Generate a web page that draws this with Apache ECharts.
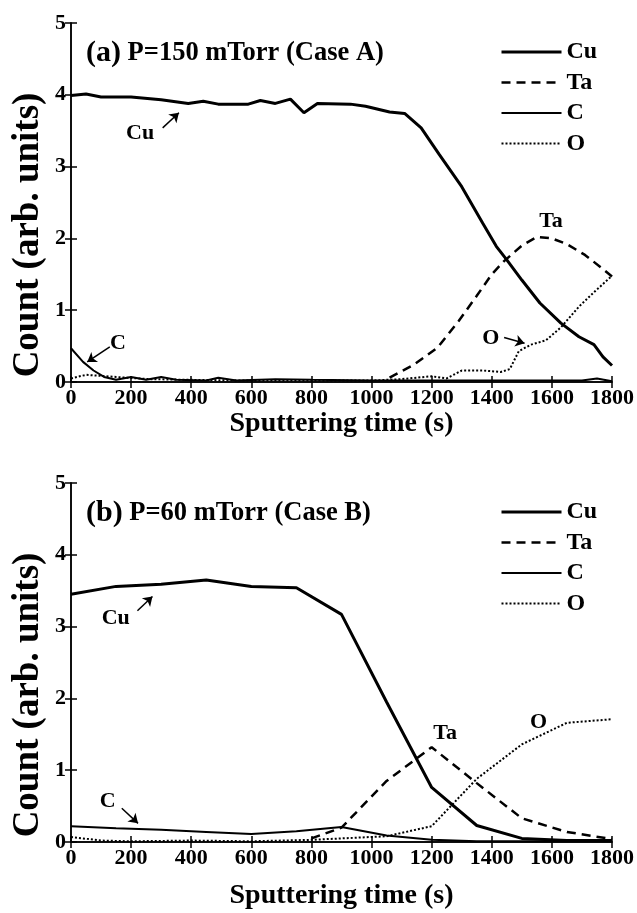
<!DOCTYPE html>
<html>
<head>
<meta charset="utf-8">
<script src="https://cdn.jsdelivr.net/npm/echarts@6/dist/echarts.min.js"></script>
<style>
  html, body { margin: 0; padding: 0; background: #fff; }
  #chart { width: 637px; height: 913px; }
</style>
</head>
<body>
<div id="chart"></div>
<script>
// panel (a) P=150 mTorr
const cuTimeA = [0, 50, 100, 200, 300, 390, 440, 490, 590, 630, 680, 730, 775, 820, 930, 980, 1060, 1110, 1165, 1225, 1300, 1370, 1415, 1450, 1500, 1560, 1630, 1690, 1740, 1770, 1800];
const cuA = [3.99, 4.01, 3.97, 3.97, 3.93, 3.88, 3.91, 3.87, 3.87, 3.92, 3.88, 3.94, 3.75, 3.88, 3.87, 3.84, 3.76, 3.74, 3.54, 3.17, 2.72, 2.21, 1.89, 1.70, 1.42, 1.10, 0.82, 0.63, 0.52, 0.35, 0.23];
const taTimeA = [1060, 1140, 1220, 1290, 1350, 1400, 1440, 1500, 1550, 1600, 1650, 1710, 1765, 1800];
const taA = [0.06, 0.24, 0.48, 0.85, 1.2, 1.5, 1.68, 1.9, 2.02, 2.0, 1.92, 1.77, 1.59, 1.47];
const cTimeA = [0, 40, 75, 110, 150, 200, 250, 300, 350, 450, 490, 550, 680, 800, 1000, 1200, 1400, 1600, 1700, 1750, 1800];
const cA = [0.47, 0.28, 0.16, 0.07, 0.03, 0.07, 0.03, 0.07, 0.03, 0.02, 0.06, 0.02, 0.04, 0.03, 0.02, 0.02, 0.02, 0.02, 0.02, 0.05, 0.01];
const oTimeA = [0, 50, 150, 260, 400, 600, 800, 1000, 1100, 1200, 1250, 1300, 1370, 1430, 1460, 1490, 1530, 1580, 1630, 1690, 1740, 1800];
const oA = [0.05, 0.10, 0.07, 0.04, 0.03, 0.02, 0.02, 0.02, 0.04, 0.08, 0.05, 0.16, 0.16, 0.14, 0.18, 0.43, 0.52, 0.58, 0.76, 1.05, 1.25, 1.48];

// panel (b) P=60 mTorr
const cuTimeB = [0, 150, 300, 450, 600, 750, 900, 1050, 1200, 1350, 1500, 1650, 1800];
const cuB = [3.45, 3.56, 3.59, 3.65, 3.56, 3.54, 3.17, 1.95, 0.76, 0.23, 0.05, 0.02, 0.02];
const taTimeB = [800, 900, 1050, 1200, 1350, 1500, 1650, 1800];
const taB = [0.05, 0.2, 0.85, 1.32, 0.82, 0.33, 0.14, 0.04];
const cTimeB = [0, 150, 300, 450, 600, 750, 900, 1050, 1200, 1350, 1500, 1650, 1800];
const cB = [0.22, 0.19, 0.17, 0.14, 0.11, 0.15, 0.21, 0.09, 0.03, 0.01, 0.01, 0.01, 0.01];
const oTimeB = [0, 100, 200, 400, 600, 800, 900, 1050, 1200, 1350, 1500, 1650, 1800];
const oB = [0.07, 0.02, 0.01, 0.02, 0.01, 0.03, 0.05, 0.08, 0.22, 0.88, 1.36, 1.66, 1.71];

const xTicks = [0, 200, 400, 600, 800, 1000, 1200, 1400, 1600, 1800];
const legendNames = ['Cu', 'Ta', 'C', 'O'];

// labels and arrows drawn on the plots, in data units
const notesA = [[230, 3.47, 'Cu'], [156, 0.54, 'C'], [1597, 2.24, 'Ta'], [1397, 0.61, 'O']];
const arrowsA = [[305, 3.54, 359, 3.75], [129, 0.49, 54, 0.28], [1441, 0.62, 1509, 0.54]];
const notesB = [[149, 3.12, 'Cu'], [122, 0.56, 'C'], [1245, 1.52, 'Ta'], [1556, 1.66, 'O']];
const arrowsB = [[221, 3.22, 271, 3.42], [169, 0.47, 223, 0.26]];

const serif = '"Liberation Serif", "DejaVu Serif", serif';
const pairs = (ts, vs) => ts.map((t, i) => [t, vs[i]]);

const styles = {
  Cu: { width: 3, type: 'solid' },
  Ta: { width: 2.5, type: [9, 6] },
  C: { width: 2, type: 'solid' },
  O: { width: 2, type: [2, 2] }
};

function line(name, ts, vs, ax) {
  return {
    name: name, type: 'line', xAxisIndex: ax, yAxisIndex: ax,
    data: pairs(ts, vs), symbol: 'none', showSymbol: false,
    lineStyle: Object.assign({ color: '#000' }, styles[name]),
    itemStyle: { color: '#000' }, z: 3
  };
}

// text labels + arrows; the scatter points themselves stay invisible
function notes(notesArr, arrowsArr, ax) {
  return {
    name: 'notes' + ax, type: 'scatter', xAxisIndex: ax, yAxisIndex: ax,
    data: notesArr, symbolSize: 0, itemStyle: { color: '#000', opacity: 1 },
    label: {
      show: true, position: 'inside', formatter: p => p.value[2], opacity: 1,
      textBorderWidth: 0, fontFamily: serif, fontWeight: 'bold', fontSize: 22, color: '#000'
    },
    markLine: {
      silent: true, symbol: ['none', 'arrow'], symbolSize: 9,
      lineStyle: { color: '#000', width: 1.5, type: 'solid', opacity: 1 },
      itemStyle: { color: '#000', opacity: 1 },
      label: { show: false },
      data: arrowsArr.map(a => [{ coord: [a[0], a[1]] }, { coord: [a[2], a[3]] }])
    }
  };
}

function xAxes(grid, gap) {
  return [{
    gridIndex: grid, type: 'value', min: 0, max: 1800, interval: 200, position: 'bottom',
    name: 'Sputtering time (s)', nameLocation: 'middle', nameGap: gap,
    nameTextStyle: { fontFamily: serif, fontWeight: 'bold', fontSize: 28, color: '#000', verticalAlign: 'top' },
    axisLine: { lineStyle: { color: '#000', width: 1.5 } },
    axisTick: { inside: true, length: 6, lineStyle: { color: '#000', width: 1.5 } },
    axisLabel: { margin: 5, fontFamily: serif, fontWeight: 'bold', fontSize: 22, color: '#000',
      formatter: v => xTicks.includes(v) ? String(v) : '' },
    splitLine: { show: false }
  }, {
    gridIndex: grid, type: 'value', min: 0, max: 1800, interval: 200, position: 'top',
    axisLine: { lineStyle: { color: '#000', width: 1.5 } },
    axisTick: { inside: true, length: 6, lineStyle: { color: '#000', width: 1.5 } },
    axisLabel: { show: false }, splitLine: { show: false }
  }];
}

function yAxes(grid) {
  return [{
    gridIndex: grid, type: 'value', min: 0, max: 5, interval: 1, position: 'left',
    axisLine: { show: true, lineStyle: { color: '#000', width: 1.5 } },
    axisTick: { show: true, inside: true, length: 6, lineStyle: { color: '#000', width: 1.5 } },
    axisLabel: { margin: 5, fontFamily: serif, fontWeight: 'bold', fontSize: 22, color: '#000' },
    splitLine: { show: false }
  }, {
    gridIndex: grid, type: 'value', min: 0, max: 5, interval: 1, position: 'right',
    axisLine: { show: true, lineStyle: { color: '#000', width: 1.5 } },
    axisTick: { show: true, inside: true, length: 6, lineStyle: { color: '#000', width: 1.5 } },
    axisLabel: { show: false }, splitLine: { show: false }
  }];
}

function legend(top) {
  return {
    data: legendNames.map(n => ({ name: n, lineStyle: { width: styles[n].width, type: styles[n].type, color: '#000' } })),
    orient: 'vertical', left: 500, top: top, padding: 0,
    itemWidth: 60, itemHeight: 14, itemGap: 6.5, selectedMode: false,
    itemStyle: { opacity: 0 },
    textStyle: { fontFamily: serif, fontWeight: 'bold', fontSize: 24, color: '#000', lineHeight: 22.5 }
  };
}

function panelTitle(tag, text, top) {
  return {
    text: '{l|' + tag + '}{r| ' + text + '}', left: 86, top: top, padding: 0,
    textStyle: {
      rich: {
        l: { fontFamily: serif, fontWeight: 'bold', fontSize: 30, color: '#000', lineHeight: 30 },
        r: { fontFamily: serif, fontWeight: 'bold', fontSize: 26.5, color: '#000', lineHeight: 30 }
      }
    }
  };
}

function yLabel(cy) {
  return {
    type: 'text', x: 28, y: cy, rotation: Math.PI / 2,
    style: { text: 'Count (arb. units)', font: 'bold 37px ' + serif, fill: '#000', align: 'center', verticalAlign: 'middle' }
  };
}

const chart = echarts.init(document.getElementById('chart'));
chart.setOption({
  animation: false,
  backgroundColor: '#fff',
  title: [panelTitle('(a)', 'P=150 mTorr (Case A)', 38), panelTitle('(b)', 'P=60 mTorr (Case B)', 498)],
  legend: [legend(40), legend(500)],
  grid: [
    { left: 71, right: 25, top: 23, height: 359 },
    { left: 71, right: 25, top: 483, height: 359 }
  ],
  xAxis: [...xAxes(0, 24), ...xAxes(1, 40)],
  yAxis: [...yAxes(0), ...yAxes(1)],
  graphic: [yLabel(235), yLabel(695)],
  series: [
    line('Cu', cuTimeA, cuA, 0),
    line('Ta', taTimeA, taA, 0),
    line('C', cTimeA, cA, 0),
    line('O', oTimeA, oA, 0),
    notes(notesA, arrowsA, 0),
    line('Cu', cuTimeB, cuB, 2),
    line('Ta', taTimeB, taB, 2),
    line('C', cTimeB, cB, 2),
    line('O', oTimeB, oB, 2),
    notes(notesB, arrowsB, 2)
  ]
});
window.addEventListener('resize', () => chart.resize());
</script>
</body>
</html>
